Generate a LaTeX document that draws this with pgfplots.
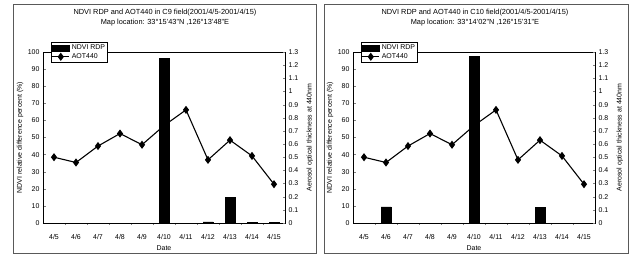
\documentclass[border=0pt]{standalone}
\usepackage{pgfplots}
\pgfplotsset{compat=1.18}
\usepackage{fontspec}
\setmainfont{Liberation Sans}
\newcommand{\fs}{\fontsize{7}{8}\selectfont}
\newcommand{\ft}{\fontsize{7.4}{10.5}\selectfont}
\pgfplotsset{
  panel/.style={
    scale only axis, width=242bp, height=171bp,
    xmin=-0.5, xmax=10.5, ymin=0, ymax=100,
    xtick={0,...,10},
    xticklabels={4/5,4/6,4/7,4/8,4/9,4/10,4/11,4/12,4/13,4/14,4/15},
    minor xtick={0.5,1.5,...,9.5},
    major x tick style={draw=none},
    minor tick length=2bp,
    major tick length=2.5bp,
    ytick={0,10,...,100},
    ytick pos=left, xtick pos=bottom,
    tick align=inside,
    every x tick label/.append style={yshift=-5bp},
    /pgf/number format/assume math mode=true,
    tick label style={font=\fs},
    label style={font=\fs},
    title style={font=\ft, align=center, at={(0.504,1.167)}, anchor=center},
    xlabel={Date},
    xlabel style={at={(0.5,-0.146)}, anchor=center},
    ylabel={NDVI relative difference percent (\%)},
    ylabel style={at={(-0.095,0.5)}, anchor=center},
    axis line style={line width=0.7pt},
    ybar, bar width=10bp,
  },
  panelR/.style={
    scale only axis, width=242bp, height=171bp,
    xmin=-0.5, xmax=10.5, ymin=0, ymax=1.3,
    hide x axis, axis y line*=right,
    ytick={0,0.1,...,1.3},
    yticklabel style={/pgf/number format/fixed, /pgf/number format/precision=1},
    /pgf/number format/assume math mode=true,
    tick label style={font=\fs},
    label style={font=\fs},
    tick align=inside, major tick length=2.5bp,
    ylabel={Aerosol optical thickness at 440nm},
    ylabel style={at={(1.103,0.5)}, anchor=center},
    axis line style={line width=0.7pt},
    legend style={at={(0.033,1.058)}, anchor=north west, draw=black, line width=0.5pt,
      font=\fs, inner sep=0.5pt, row sep=-1.5pt, fill=white},
    legend cell align=left,
  },
}
\begin{document}
\begin{tikzpicture}
\useasboundingbox (0,0) rectangle (634bp,257bp);
\draw[line width=0.6pt, gray!70!black] (13bp,4bp) rectangle (316bp,253bp);
\draw[line width=0.6pt, gray!70!black] (324bp,4bp) rectangle (628bp,253bp);
% Left panel
\begin{axis}[panel, at={(43bp,34bp)}, anchor=south west,
  title={NDVI RDP and AOT440 in C9 field(2001/4/5-2001/4/15)\\Map location: 33°15'43"N ,126°13'48"E}]
\addplot[fill=black, draw=black] coordinates {(0,0) (1,0) (2,0) (3,0) (4,0) (5,96.3) (6,0) (7,0.6) (8,15) (9,0.3) (10,0.5)};
\end{axis}
\begin{axis}[panelR, at={(43bp,34bp)}, anchor=south west]
\addlegendimage{area legend, fill=black, draw=black}
\addlegendentry{NDVI RDP}
\addplot[black, line width=1.1pt, mark=diamond*, mark size=3.2pt] coordinates {(0,0.50) (1,0.46) (2,0.585) (3,0.68) (4,0.595) (5,0.74) (6,0.86) (7,0.48) (8,0.63) (9,0.51) (10,0.295)};
\addlegendentry{AOT440}
\end{axis}
% Right panel
\begin{axis}[panel, at={(353bp,34bp)}, anchor=south west,
  title={NDVI RDP and AOT440 in C10 field(2001/4/5-2001/4/15)\\Map location: 33°14'02"N ,126°15'31"E}]
\addplot[fill=black, draw=black] coordinates {(0,0) (1,9.5) (2,0) (3,0) (4,0) (5,97.3) (6,0) (7,0) (8,9) (9,0) (10,0)};
\end{axis}
\begin{axis}[panelR, at={(353bp,34bp)}, anchor=south west]
\addlegendimage{area legend, fill=black, draw=black}
\addlegendentry{NDVI RDP}
\addplot[black, line width=1.1pt, mark=diamond*, mark size=3.2pt] coordinates {(0,0.50) (1,0.46) (2,0.585) (3,0.68) (4,0.595) (5,0.74) (6,0.86) (7,0.48) (8,0.63) (9,0.51) (10,0.295)};
\addlegendentry{AOT440}
\end{axis}
\end{tikzpicture}
\end{document}
